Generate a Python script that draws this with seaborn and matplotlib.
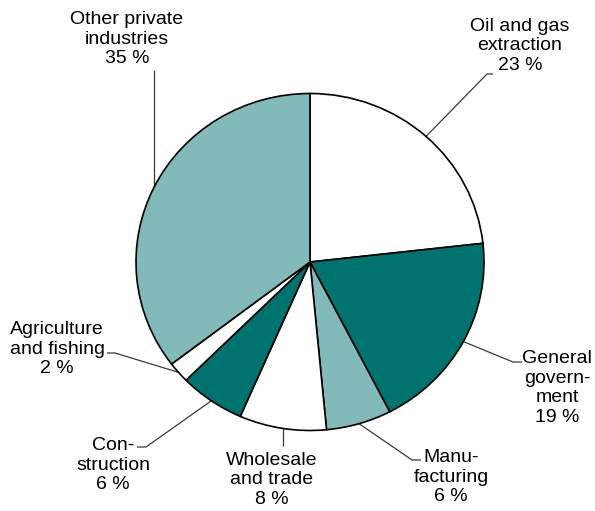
import matplotlib
matplotlib.use("Agg")
import matplotlib.pyplot as plt
import numpy as np
import seaborn as sns

# Shares of value added by industry (per cent)
industries = ["Oil and gas\nextraction", "General\ngovern-\nment", "Manu-\nfacturing",
              "Wholesale\nand trade", "Con-\nstruction", "Agriculture\nand fishing",
              "Other private\nindustries"]
shares = [23, 19, 6, 8, 6, 2, 35]

dark_teal = "#00736F"
light_teal = "#82B9B9"
slice_colors = ["#FFFFFF", dark_teal, light_teal, "#FFFFFF", dark_teal, "#FFFFFF", light_teal]

# Label layout in figure pixels (top-left origin): text centre, leader elbow, leader end
label_pos = [(520, 46), (557, 388), (451, 477), (272, 480), (113, 465), (57, 349), (127, 39)]
elbows = [(487, 74), (513, 362), (412, 460), (None, 446), (146, 447), (115, 353), (None, 70)]
ends = [(493, 74), (522, 362), (421, 460), None, (137, 447), (107, 353), None]

sns.set_theme(style="white")
plt.rcParams["font.family"] = ["Liberation Sans", "DejaVu Sans"]

W, H = 595, 511
fig = plt.figure(figsize=(W / 100, H / 100), dpi=100)
fig.patch.set_facecolor("white")

cx, cy = 310, 262
rx, ry = 174, 168.5
ax = fig.add_axes([(cx - rx) / W, (H - cy - ry) / H, 2 * rx / W, 2 * ry / H])
wedges, _ = ax.pie(shares, colors=slice_colors, startangle=90, counterclock=False,
                   radius=1, center=(0, 0), frame=False,
                   wedgeprops=dict(edgecolor="black", linewidth=1.2))
for w in wedges:
    w.set_clip_on(False)
ax.set_aspect("auto")
ax.set_xlim(-1, 1)
ax.set_ylim(-1, 1)
ax.axis("off")

ov = fig.add_axes([0, 0, 1, 1], zorder=-1)
ov.set_xlim(0, W)
ov.set_ylim(H, 0)
ov.axis("off")

for w, name, share, (tx, ty), elbow, end in zip(wedges, industries, shares,
                                                 label_pos, elbows, ends):
    mid = np.deg2rad((w.theta1 + w.theta2) / 2)
    ex = cx + rx * np.cos(mid)
    ey = cy - ry * np.sin(mid)
    bx, by = elbow
    if bx is None:
        xs, ys = [ex, ex], [ey, by]
    else:
        xs, ys = [ex, bx, end[0]], [ey, by, end[1]]
    ov.plot(xs, ys, color="#3a3a3a", lw=0.9, solid_capstyle="butt")
    ov.text(tx, ty, f"{name}\n{share} %", ha="center", va="center",
            multialignment="center", fontsize=14, color="black", linespacing=1.2)

fig.savefig("out.png", dpi=100, facecolor="white")
